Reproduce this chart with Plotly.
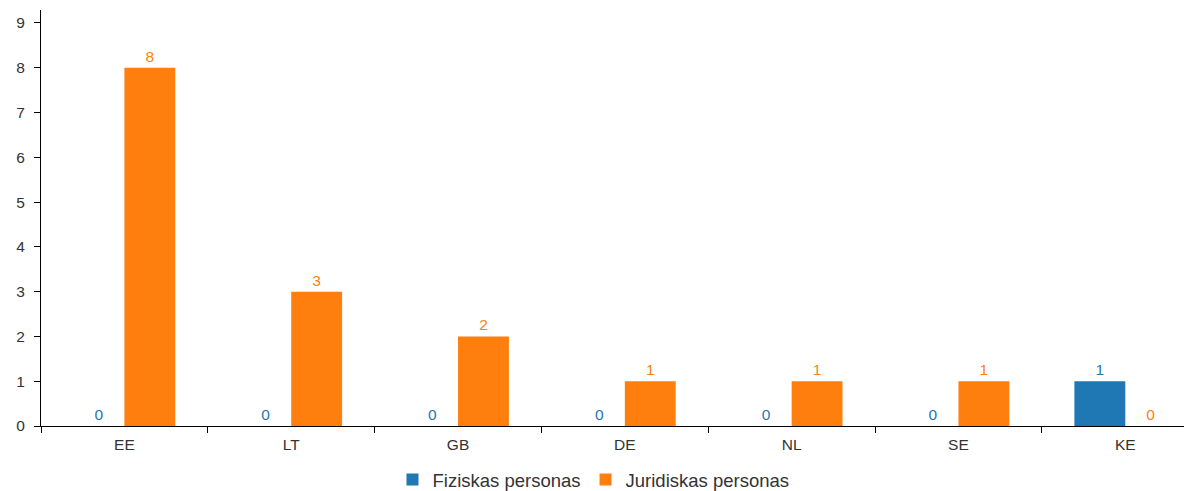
import plotly.graph_objects as go

countries = ['EE', 'LT', 'GB', 'DE', 'NL', 'SE', 'KE']
fiziskas = [0, 0, 0, 0, 0, 0, 1]
juridiskas = [8, 3, 2, 1, 1, 1, 0]

blue = '#1f77b4'
orange = '#ff7f0e'
font = 'Liberation Sans, Arial, sans-serif'

fig = go.Figure()
fig.add_trace(go.Bar(
    name='Fiziskas personas', x=countries, y=fiziskas,
    marker=dict(color=blue, line=dict(width=0)),
    text=fiziskas, textposition='outside', cliponaxis=False,
    textfont=dict(color=blue, size=15.5, family=font),
))
fig.add_trace(go.Bar(
    name='Juridiskas personas', x=countries, y=juridiskas,
    marker=dict(color=orange, line=dict(width=0)),
    text=juridiskas, textposition='outside', cliponaxis=False,
    textfont=dict(color=orange, size=15.5, family=font),
))

# page body has an 8px margin, so offsets are shifted by that
fig.update_layout(
    width=1192, height=491,
    margin=dict(l=33, r=8, t=2, b=73, autoexpand=False),
    plot_bgcolor='white', paper_bgcolor='white',
    barmode='group', bargap=0.39, bargroupgap=0,
    font=dict(family=font, size=15.5, color='#333'),
    legend=dict(orientation='h', x=0.48, xanchor='center', y=-0.13, yanchor='middle',
                font=dict(size=18.5, color='#333'), itemwidth=30),
)
fig.update_xaxes(
    range=[-0.5, 6.4], showline=True, linecolor='black', linewidth=1,
    ticks='outside', tickson='boundaries', ticklen=6, tickcolor='black',
    showgrid=False, automargin=False, ticklabelstandoff=4,
    tickfont=dict(size=15.5, color='#333'),
)
fig.update_yaxes(
    range=[0, 9.29], showline=True, linecolor='black', linewidth=1,
    ticks='outside', ticklen=6, tickcolor='black', dtick=1,
    showgrid=False, zeroline=False, automargin=False, ticklabelstandoff=6,
    tickfont=dict(size=15.5, color='#333'),
)

fig.write_html('out.html')
